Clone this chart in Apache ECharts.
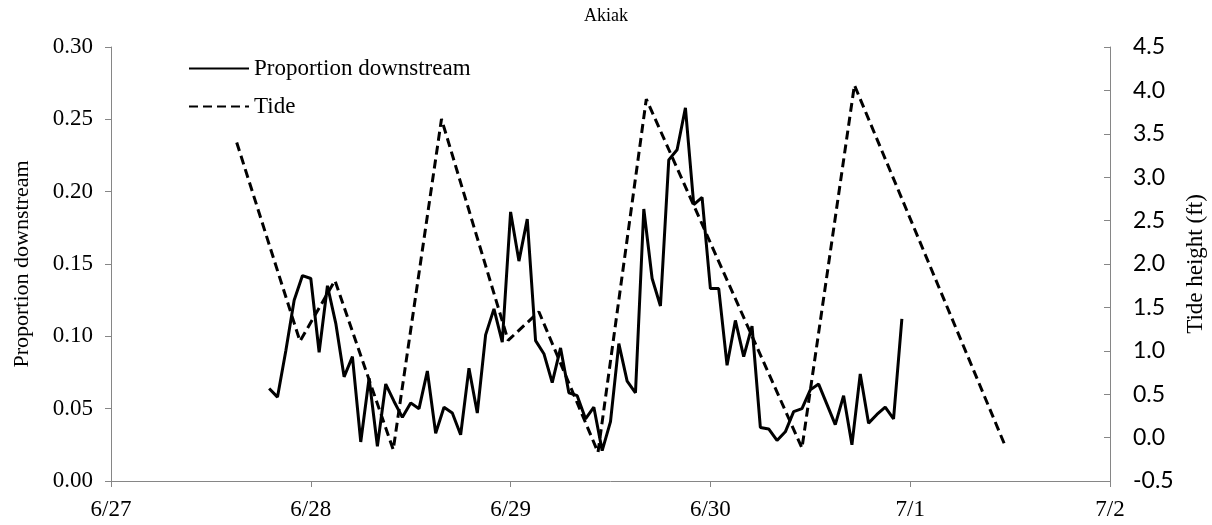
<!DOCTYPE html>
<html>
<head>
<meta charset="utf-8">
<script src="https://cdn.jsdelivr.net/npm/echarts@6/dist/echarts.min.js"></script>
<style>
  html, body { margin: 0; padding: 0; background: #fff; }
  #chart { width: 1212px; height: 525px; }
</style>
</head>
<body>
<div id="chart"></div>
<script>
// x values are in days after 6/27 00:00
var dayLabels = ['6/27', '6/28', '6/29', '6/30', '7/1', '7/2'];

// hourly proportion downstream, starting 6/27 19:00
var propStartHour = 19;
var propValues = [
  0.064, 0.058, 0.090, 0.125, 0.142, 0.140, 0.089, 0.135, 0.109, 0.072,
  0.086, 0.027, 0.071, 0.024, 0.067, 0.055, 0.044, 0.054, 0.050, 0.076,
  0.033, 0.051, 0.047, 0.032, 0.078, 0.047, 0.101, 0.119, 0.096, 0.186,
  0.152, 0.181, 0.097, 0.088, 0.068, 0.092, 0.061, 0.059, 0.043, 0.051,
  0.021, 0.041, 0.095, 0.069, 0.061, 0.188, 0.140, 0.121, 0.222, 0.229,
  0.258, 0.191, 0.196, 0.133, 0.133, 0.080, 0.111, 0.086, 0.107, 0.037,
  0.036, 0.028, 0.034, 0.048, 0.050, 0.063, 0.067, 0.053, 0.039, 0.059,
  0.025, 0.074, 0.040, 0.046, 0.051, 0.043, 0.112
];

// tide highs / lows (hour after 6/27 00:00, height in ft)
var tideHours = [15.1, 22.7, 26.9, 33.9, 39.7, 47.7, 51.4, 58.5, 64.3, 83.0, 89.3, 107.3];
var tideHeights = [3.40, 1.11, 1.81, -0.14, 3.67, 1.12, 1.45, -0.17, 3.90, -0.12, 4.06, -0.07];

var propData = propValues.map(function (v, i) { return [(propStartHour + i) / 24, v]; });
var tideData = tideHours.map(function (h, i) { return [h / 24, tideHeights[i]]; });

var serif = 'Liberation Serif';
var axisGray = '#868686';

var myChart = echarts.init(document.getElementById('chart'));
var option = {
  backgroundColor: '#fff',
  animation: false,
  title: {
    text: 'Akiak',
    left: 'center',
    top: 2,
    textStyle: { fontFamily: serif, fontSize: 18, fontWeight: 'normal', color: '#000' }
  },
  legend: {
    orient: 'vertical',
    left: 188,
    top: 57,
    padding: 0,
    itemWidth: 60,
    itemHeight: 14,
    itemGap: 15,
    itemStyle: { opacity: 0 },
    textStyle: { fontFamily: serif, fontSize: 23, color: '#000' },
    data: ['Proportion downstream', 'Tide']
  },
  grid: { left: 111, right: 102, top: 47, bottom: 44, outerBoundsMode: 'none' },
  xAxis: {
    type: 'value',
    min: 0,
    max: 5,
    interval: 1,
    axisLine: { lineStyle: { color: axisGray, width: 1 } },
    axisTick: { show: true, length: 6, lineStyle: { color: axisGray } },
    splitLine: { show: false },
    axisLabel: {
      fontFamily: serif, fontSize: 23, color: '#000', margin: 17,
      formatter: function (v) { return dayLabels[Math.round(v)]; }
    }
  },
  yAxis: [
    {
      type: 'value',
      min: 0,
      max: 0.3,
      interval: 0.05,
      name: 'Proportion downstream',
      nameLocation: 'middle',
      nameGap: 78,
      nameTextStyle: { fontFamily: serif, fontSize: 22, color: '#000' },
      axisLine: { show: true, lineStyle: { color: axisGray } },
      axisTick: { show: true, length: 6, lineStyle: { color: axisGray } },
      splitLine: { show: false },
      axisLabel: {
        fontFamily: serif, fontSize: 23, color: '#000', margin: 18,
        formatter: function (v) { return v.toFixed(2); }
      }
    },
    {
      type: 'value',
      min: -0.5,
      max: 4.5,
      interval: 0.5,
      position: 'right',
      name: 'Tide height (ft)',
      nameLocation: 'middle',
      nameGap: 73,
      nameRotate: 90,
      nameTextStyle: { fontFamily: serif, fontSize: 23, color: '#000' },
      axisLine: { show: true, lineStyle: { color: axisGray } },
      axisTick: { show: true, inside: true, length: 6, lineStyle: { color: axisGray } },
      splitLine: { show: false },
      axisLabel: {
        fontFamily: 'Lato', fontSize: 23, color: '#000', margin: 23,
        formatter: function (v) { return v.toFixed(1); }
      }
    }
  ],
  series: [
    {
      name: 'Proportion downstream',
      type: 'line',
      yAxisIndex: 0,
      data: propData,
      symbol: 'none',
      color: '#000',
      lineStyle: { color: '#000', width: 3 }
    },
    {
      name: 'Tide',
      type: 'line',
      yAxisIndex: 1,
      data: tideData,
      symbol: 'none',
      color: '#000',
      lineStyle: { color: '#000', width: 3, type: [9, 5] }
    }
  ]
};
myChart.setOption(option);
window.onresize = myChart.resize;
</script>
</body>
</html>
